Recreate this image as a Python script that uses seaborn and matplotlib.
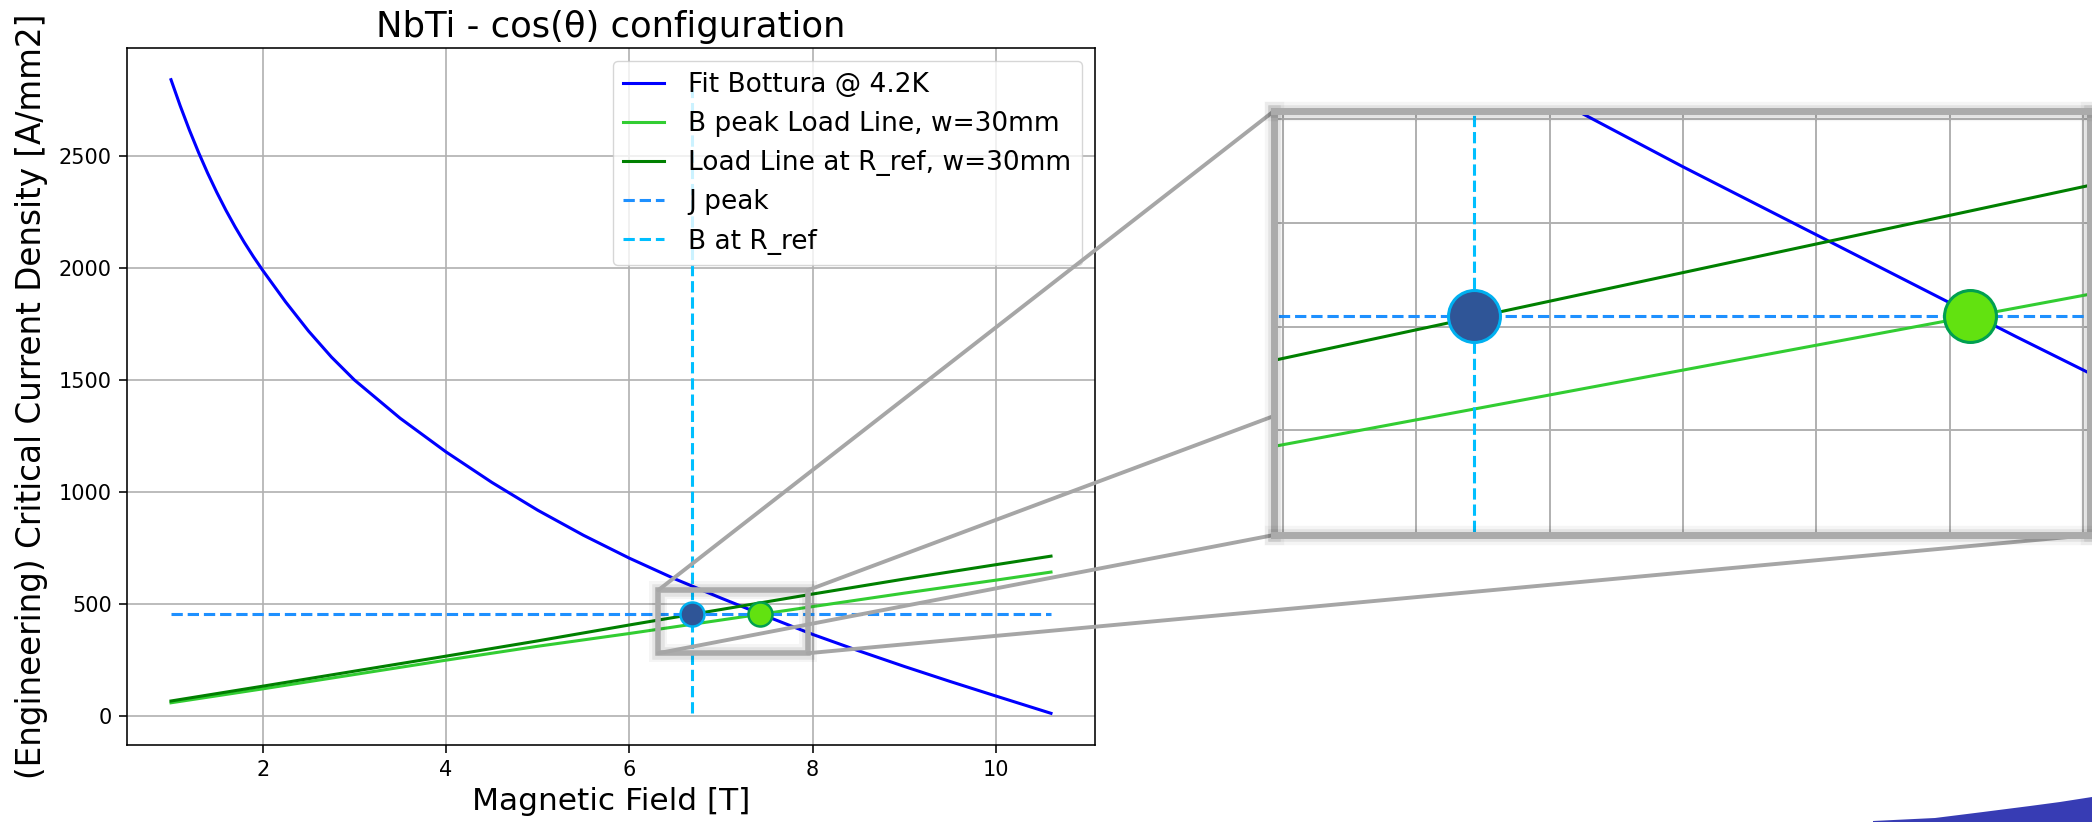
import numpy as np
import pandas as pd
import matplotlib
matplotlib.use("Agg")
import matplotlib.pyplot as plt
import seaborn as sns
from matplotlib.patches import Rectangle, ConnectionPatch, Polygon
import matplotlib.patheffects as pe

# ---------------- data ----------------
B_fit = [1.0, 1.1, 1.2, 1.3, 1.4, 1.5, 1.6, 1.7, 1.8, 1.9, 2.0, 2.25, 2.5, 2.75,
         3.0, 3.5, 4.0, 4.5, 5.0, 5.5, 6.0, 6.5, 7.0, 7.5, 8.0, 8.5, 9.0, 9.5,
         10.0, 10.6]
J_fit = [2839, 2723, 2615, 2515, 2422, 2336, 2256, 2182, 2113, 2049, 1989, 1848, 1718, 1602,
         1500, 1329, 1179, 1043, 919, 807, 705, 612, 527, 445, 365, 292, 222, 155,
         90, 13]
B_load = [1, 2, 3, 4, 5, 6, 7, 8, 9, 10, 10.6]
J_load_peak = [60, 122, 186, 250, 312, 369, 429, 489, 549, 607, 643]
J_load_ref = [68, 134, 201, 268, 336, 407, 476, 545, 612, 676, 714]
J_peak = 455
B_ref = 6.687
B_peak = 7.43

labels = ["Fit Bottura @ 4.2K", "B peak Load Line, w=30mm",
          "Load Line at R_ref, w=30mm", "J peak", "B at R_ref"]
title = "NbTi - cos(θ) configuration"
xlabel = "Magnetic Field [T]"
ylabel = "(Engineering) Critical Current Density [A/mm2]"

# zoom window shown in main plot and limits of the magnified view
ZOOM_X = (6.315, 7.946)
ZOOM_Y = (281, 562)
INSET_X = (6.387, 7.610)
INSET_Y = (349.5, 553.9)

fit_df = pd.DataFrame({"B": B_fit, "J": J_fit})
load_df = pd.DataFrame({"B": B_load, "peak": J_load_peak, "ref": J_load_ref})

# ---------------- figure ----------------
W, H = 2092, 822
fig = plt.figure(figsize=(W / 100, H / 100), dpi=100)
ax = fig.add_axes([127 / W, 77 / H, 968 / W, 697 / H])

C_FIT, C_PEAK, C_REF = "#0000ff", "#32cd32", "#008000"
C_JP, C_BR = "#1e90ff", "#00bfff"
LW = 2.2


def draw_all(a, ms, mew, legend):
    sns.lineplot(data=fit_df, x="B", y="J", color=C_FIT, lw=LW, ax=a,
                 label=labels[0] if legend else None, legend=False)
    sns.lineplot(data=load_df, x="B", y="peak", color=C_PEAK, lw=LW, ax=a,
                 label=labels[1] if legend else None, legend=False)
    sns.lineplot(data=load_df, x="B", y="ref", color=C_REF, lw=LW, ax=a,
                 label=labels[2] if legend else None, legend=False)
    a.hlines(J_peak, min(B_fit), max(B_fit), colors=C_JP, linestyles="--", lw=LW,
             label=labels[3] if legend else None)
    a.vlines(B_ref, min(J_fit), max(J_fit), colors=C_BR, linestyles="--", lw=LW,
             label=labels[4] if legend else None)
    a.plot([B_ref], [J_peak], "o", ms=ms, mfc="#2f5597", mec="#00b0f0", mew=mew, zorder=5)
    a.plot([B_peak], [J_peak], "o", ms=ms, mfc="#62e210", mec="#00a050", mew=mew, zorder=5)


draw_all(ax, 17.3, 1.8, True)

ax.grid(True, color="#b0b0b0", lw=1.2)
ax.set_axisbelow(True)
for s in ax.spines.values():
    s.set_linewidth(1.15)
    s.set_color("black")
ax.tick_params(labelsize=15, length=6, width=1.15, pad=5)
ax.set_title(title, fontsize=25.5, pad=8)
ax.set_xlabel(xlabel, fontsize=22.5, labelpad=5)
ax.set_ylabel(ylabel, fontsize=23.5, labelpad=8)

ax.legend(loc="upper right", fontsize=19, handlelength=1.55, handletextpad=0.9,
          labelspacing=0.5, framealpha=0.8)

# zoom rectangle on main axes
glow = [pe.Stroke(linewidth=13, foreground="k", alpha=0.04),
        pe.Stroke(linewidth=9, foreground="k", alpha=0.07),
        pe.Normal()]
rect = Rectangle((ZOOM_X[0], ZOOM_Y[0]), ZOOM_X[1] - ZOOM_X[0], ZOOM_Y[1] - ZOOM_Y[0],
                 fill=False, edgecolor="#ababab", lw=4, zorder=6)
rect.set_path_effects(glow)
ax.add_patch(rect)

# ---------------- inset ----------------
axins = fig.add_axes([1274 / W, (H - 535) / H, 816 / W, 424 / H], zorder=5)
draw_all(axins, 37.4, 2.2, False)
axins.set_xlim(*INSET_X)
axins.set_ylim(*INSET_Y)
axins.set_xticks(np.arange(6.4, 7.61, 0.2))
axins.set_yticks(np.arange(400, 551, 50))
axins.grid(True, color="#b0b0b0", lw=1.4)
axins.set_axisbelow(True)
axins.tick_params(length=0, labelbottom=False, labelleft=False)
axins.set_xlabel("")
axins.set_ylabel("")
for s in axins.spines.values():
    s.set_linewidth(5)
    s.set_color("#ababab")
    s.set_path_effects([pe.Stroke(linewidth=14, foreground="k", alpha=0.04),
                        pe.Stroke(linewidth=9, foreground="k", alpha=0.07),
                        pe.Normal()])

# connectors from zoom window corners to inset corners
corners = [((ZOOM_X[0], ZOOM_Y[1]), (0, 1)), ((ZOOM_X[1], ZOOM_Y[1]), (1, 1)),
           ((ZOOM_X[0], ZOOM_Y[0]), (0, 0)), ((ZOOM_X[1], ZOOM_Y[0]), (1, 0))]
for pa, pb in corners:
    cp = ConnectionPatch(xyA=pa, coordsA=ax.transData, xyB=pb, coordsB=axins.transAxes,
                         color="#a6a6a6", lw=2.8, zorder=3)
    fig.add_artist(cp)

# decorative brush stroke at the bottom right corner
stroke_pts = [(1873, 822), (1873, 821), (1935, 818), (1983, 812), (2030, 806),
              (2060, 802), (2092, 797), (2092, 822)]
fig.add_artist(Polygon([(x / W, 1 - y / H) for x, y in stroke_pts], closed=True,
                       transform=fig.transFigure, facecolor="#373cb4", edgecolor="none",
                       zorder=10))

fig.savefig("out.png", dpi=100)
